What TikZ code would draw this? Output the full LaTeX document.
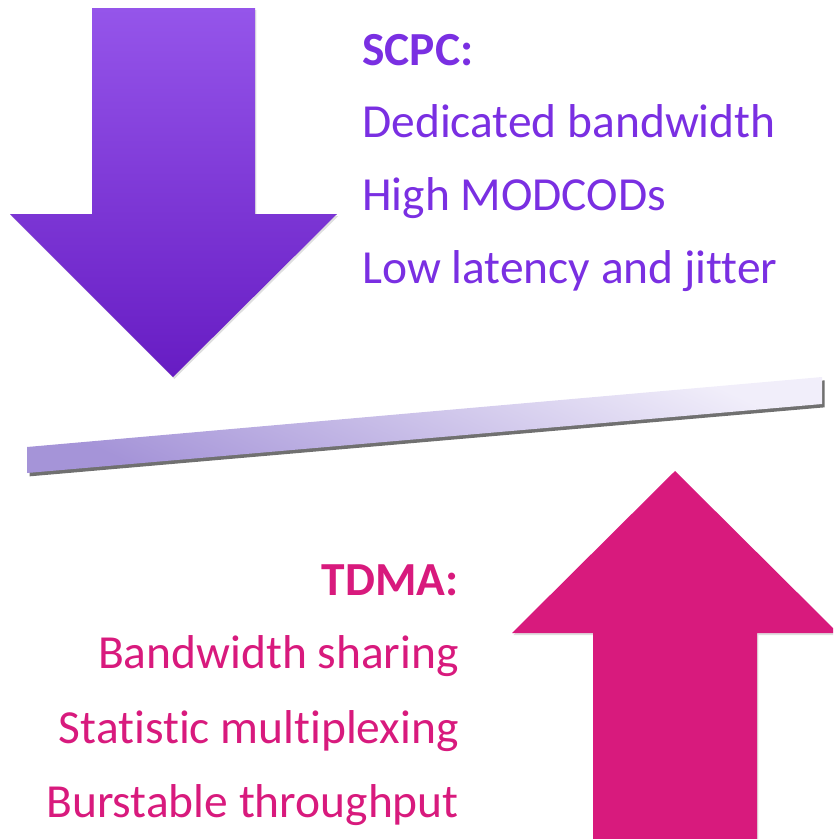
\documentclass[tikz,border=0pt]{standalone}
\usepackage{fontspec}
\setmainfont{Carlito}[Ligatures=CommonOff]
\usetikzlibrary{shadows}

\definecolor{scpcpurple}{HTML}{7A2FE2}
\definecolor{arrowtop}{HTML}{9555EA}
\definecolor{arrowbot}{HTML}{671CC3}
\definecolor{tdmapink}{HTML}{D81A7D}
\definecolor{barleft}{HTML}{A594D8}
\definecolor{barright}{HTML}{F1EEFA}

\tikzset{
	bigtext/.style={font=\fontsize{35.6}{43}\selectfont, inner sep=0pt},
	scpctext/.style={bigtext, text=scpcpurple, anchor=base west},
	tdmatext/.style={bigtext, text=tdmapink, anchor=base east}
}

\begin{document}
\begin{tikzpicture}[x=0.75pt, y=-0.75pt]
			
			\useasboundingbox (0, 0) rectangle (833, 839);
			\clip (0, 0) rectangle (833, 839);
			
			% down arrow
			\shade [top color=arrowtop, bottom color=arrowbot,
				drop shadow={shadow xshift=1pt, shadow yshift=-1.5pt, opacity=0.25}]
				(92, 8) -- (255, 8) -- (255, 214) -- (337, 214) -- (173, 377)
				-- (10, 214) -- (92, 214) -- cycle;
			
			% bar
			\shade [top color=barright, bottom color=barleft, shading angle=-25,
				drop shadow={shadow xshift=2pt, shadow yshift=-2.5pt, opacity=0.7, fill=black!80}]
				(27, 447) -- (822, 377) -- (822, 404) -- (27, 473) -- cycle;
			
			% up arrow
			\fill [tdmapink, drop shadow={shadow xshift=1pt, shadow yshift=-1.5pt, opacity=0.25}]
				(593, 845) -- (593, 633) -- (512, 633) -- (675, 471) -- (838, 633)
				-- (757, 633) -- (757, 845) -- cycle;
			
			\node [scpctext] (scpc) at (362, 65) {\textbf{SCPC:}};
			\node [scpctext] (scpc1) at (362, 137) {Dedicated bandwidth};
			\node [scpctext] (scpc2) at (362, 210) {High MODCODs};
			\node [scpctext] (scpc3) at (362, 283) {Low latency and jitter};
			
			\node [tdmatext] (tdma) at (459, 595) {\textbf{TDMA:}};
			\node [tdmatext] (tdma1) at (459, 668) {Bandwidth sharing};
			\node [tdmatext] (tdma2) at (459, 743) {Statistic multiplexing};
			\node [tdmatext] (tdma3) at (459, 817) {Burstable throughput};
			
\end{tikzpicture}
\end{document}
